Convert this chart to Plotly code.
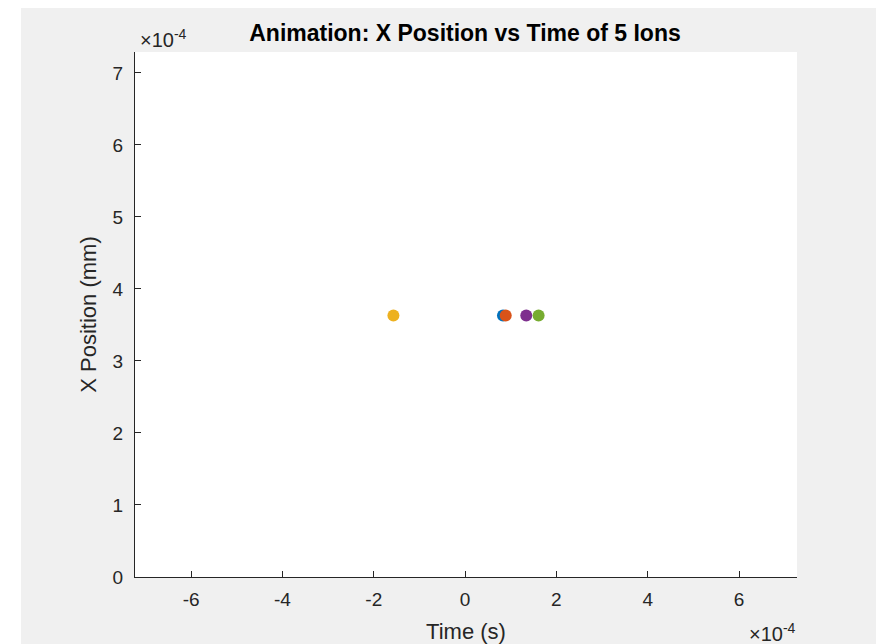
import plotly.graph_objects as go

# Data (time in seconds, position in mm)
ion_names = ["Ion 1", "Ion 2", "Ion 3", "Ion 4", "Ion 5"]
ion_time = [0.83e-4, 0.89e-4, -1.57e-4, 1.34e-4, 1.61e-4]
ion_pos = [3.63e-4, 3.63e-4, 3.63e-4, 3.63e-4, 3.63e-4]
ion_colors = ["#0072BD", "#D95319", "#EDB120", "#7E2F8E", "#77AC30"]

x_tick_vals = [-6, -4, -2, 0, 2, 4, 6]
y_tick_vals = [0, 1, 2, 3, 4, 5, 6, 7]
scale = 1e-4

fig = go.Figure()
for name, t, p, c in zip(ion_names, ion_time, ion_pos, ion_colors):
    fig.add_trace(go.Scatter(x=[t], y=[p], mode="markers", name=name,
                             marker=dict(color=c, size=12, line=dict(width=0))))

font_fam = "Liberation Sans, Arial, sans-serif"
axis_common = dict(showgrid=False, zeroline=False, showline=True, linecolor="#262626",
                   linewidth=1, ticks="inside", ticklen=6, tickcolor="#262626", automargin=False,
                   tickfont=dict(family=font_fam, size=19, color="#262626"), mirror=False)

fig.update_xaxes(range=[-7.23 * scale, 7.27 * scale],
                 tickvals=[v * scale for v in x_tick_vals],
                 ticktext=[str(v) for v in x_tick_vals],
                 ticklabelstandoff=5,
                 title=dict(text="Time (s)", font=dict(family=font_fam, size=22, color="#262626"), standoff=14),
                 **axis_common)
fig.update_yaxes(range=[0, 7.29 * scale],
                 tickvals=[v * scale for v in y_tick_vals],
                 ticktext=[str(v) for v in y_tick_vals],
                 ticklabelstandoff=7,
                 title=dict(text="X Position (mm)", font=dict(family=font_fam, size=22, color="#262626"), standoff=9),
                 **axis_common)

W, H = 876, 636
L, R, T, B = 127, 87, 44, 67
pw, ph = W - L - R, H - T - B


def px(page_x):
    return (page_x - 8 - L) / pw


def py(page_y):
    return (H - B + 8 - page_y) / ph


fig.update_layout(
    width=W, height=H,
    margin=dict(l=L, r=R, t=T, b=B, autoexpand=False),
    paper_bgcolor="#f0f0f0", plot_bgcolor="#ffffff",
    showlegend=False,
    title=dict(text="<b>Animation: X Position vs Time of 5 Ions</b>", x=(465 - 8) / W, xanchor="center",
               y=1 - (33 - 8) / H, yanchor="middle",
               font=dict(family=font_fam, size=23, color="#000000")),
    annotations=[
        dict(text="×10<sup>-4</sup>", x=px(163), y=py(38), xref="paper", yref="paper", showarrow=False,
             xanchor="center", yanchor="middle",
             font=dict(family=font_fam, size=20, color="#262626")),
        dict(text="×10<sup>-4</sup>", x=px(772), y=py(632), xref="paper", yref="paper", showarrow=False,
             xanchor="center", yanchor="middle",
             font=dict(family=font_fam, size=20, color="#262626")),
    ],
    shapes=[
        dict(type="rect", xref="paper", yref="paper", x0=px(0), x1=px(21), y0=py(700), y1=py(-10),
             fillcolor="#ffffff", line=dict(width=0), layer="above"),
    ],
)

fig.write_html("out.html")
